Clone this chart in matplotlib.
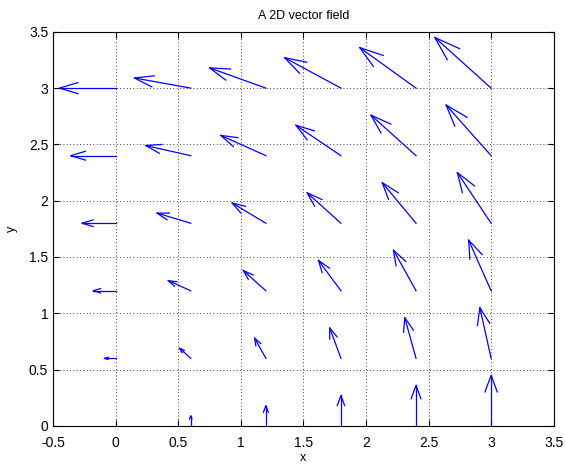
import numpy as np
import matplotlib.pyplot as plt

plt.rcParams['font.family'] = ['Liberation Sans', 'DejaVu Sans']

# grid points
xs = [0, 0.6, 1.2, 1.8, 2.4, 3.0]
ys = [0, 0.6, 1.2, 1.8, 2.4, 3.0]

# field components, one row per y value
U = [
    [0.0, 0.0, 0.0, 0.0, 0.0, 0.0],
    [-0.6, -0.6, -0.6, -0.6, -0.6, -0.6],
    [-1.2, -1.2, -1.2, -1.2, -1.2, -1.2],
    [-1.8, -1.8, -1.8, -1.8, -1.8, -1.8],
    [-2.4, -2.4, -2.4, -2.4, -2.4, -2.4],
    [-3.0, -3.0, -3.0, -3.0, -3.0, -3.0],
]
V = [
    [0.0, 0.6, 1.2, 1.8, 2.4, 3.0],
    [0.0, 0.6, 1.2, 1.8, 2.4, 3.0],
    [0.0, 0.6, 1.2, 1.8, 2.4, 3.0],
    [0.0, 0.6, 1.2, 1.8, 2.4, 3.0],
    [0.0, 0.6, 1.2, 1.8, 2.4, 3.0],
    [0.0, 0.6, 1.2, 1.8, 2.4, 3.0],
]

X, Y = np.meshgrid(xs, ys)
u = np.array(U)
v = np.array(V)

# quiver-style autoscale: longest arrow fits the grid spacing
n = int(np.sqrt(X.size))
dx = (X.max() - X.min()) / n
dy = (Y.max() - Y.min()) / n
length = np.sqrt((u**2 + v**2) / (dx**2 + dy**2))
k = 0.9 / length.max()
u = u * k
v = v * k

fig = plt.figure(figsize=(5.65, 4.68), dpi=100)
ax = fig.add_axes([0.094, 0.09, 0.886, 0.842])

alpha, beta = 0.33, 0.33
eps = 1e-12
for x0, y0, du, dv in zip(X.ravel(), Y.ravel(), u.ravel(), v.ravel()):
    ax.plot([x0, x0 + du], [y0, y0 + dv], color='blue', lw=0.9)
    hx = [x0 + du - alpha * (du + beta * (dv + eps)), x0 + du,
          x0 + du - alpha * (du - beta * (dv + eps))]
    hy = [y0 + dv - alpha * (dv - beta * (du + eps)), y0 + dv,
          y0 + dv - alpha * (dv + beta * (du + eps))]
    ax.plot(hx, hy, color='blue', lw=0.9)

ax.set_xlim(-0.5, 3.5)
ax.set_ylim(0, 3.5)
ax.set_xticks(np.arange(-0.5, 3.51, 0.5))
ax.set_yticks(np.arange(0, 3.51, 0.5))
ax.set_xticklabels(['-0.5', '0', '0.5', '1', '1.5', '2', '2.5', '3', '3.5'])
ax.set_yticklabels(['0', '0.5', '1', '1.5', '2', '2.5', '3', '3.5'])
ax.tick_params(direction='in', top=True, right=True, labelsize=10, length=4)
ax.tick_params(axis='x', pad=7)
ax.grid(True, color='black', linestyle=(0, (1, 3)), linewidth=0.6)
for s in ax.spines.values():
    s.set_linewidth(0.8)

ax.set_xlabel('x', fontsize=9, labelpad=2)
ax.set_ylabel('y', fontsize=9, labelpad=8)
ax.set_title('A 2D vector field', fontsize=9, pad=9)

fig.savefig('out.png', dpi=100)
